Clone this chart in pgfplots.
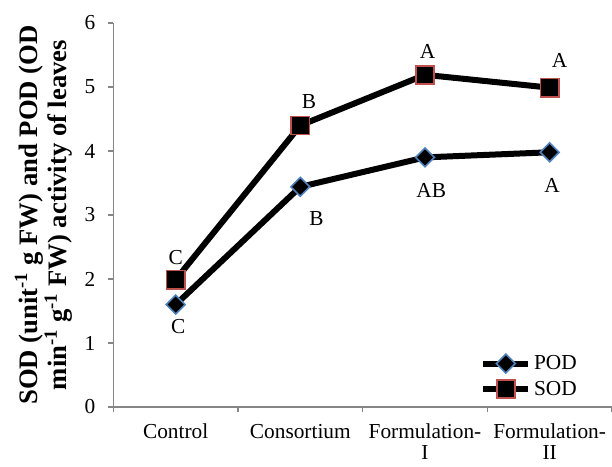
\documentclass[border=0pt]{standalone}
\usepackage{fontspec}
\setmainfont{Liberation Serif}
\usepackage{pgfplots}
\pgfplotsset{compat=1.18}
\definecolor{axgray}{HTML}{868686}
\definecolor{podblue}{HTML}{4F81BD}
\definecolor{sodred}{HTML}{C0504D}
\begin{document}
\begin{tikzpicture}
\useasboundingbox (-85pt,-45pt) rectangle (374pt,305.25pt);
\begin{axis}[
 at={(0,0)}, anchor=south west, scale only axis,
 width=374pt, height=288pt,
 xmin=-0.5, xmax=3.5, ymin=0, ymax=6,
 clip=false,
 axis x line*=bottom, axis y line*=left,
 axis line style={draw=axgray, line width=0.8pt},
 tick align=outside,
 xtick={0,1,2,3},
 xticklabels={\strut Control,\strut Consortium,\strut Formulation-\\I,\strut Formulation-\\II},
 xticklabel style={align=center, font=\fontsize{16}{16}\selectfont, yshift=-5pt},
 major x tick style={draw=none},
 minor xtick={-0.5,0.5,1.5,2.5,3.5},
 minor x tick style={draw=axgray, line width=0.8pt},
 minor tick length=4pt,
 ytick={0,1,2,3,4,5,6},
 y tick style={draw=axgray, line width=0.8pt},
 major tick length=4pt,
 yticklabel style={font=\fontsize{16}{16}\selectfont, xshift=-6pt},
 /pgf/number format/assume math mode=true,
 ylabel={SOD (unit\textsuperscript{-1} g FW) and POD (OD\\min\textsuperscript{-1} g\textsuperscript{-1} FW) activity of leaves},
 ylabel style={font=\bfseries\fontsize{20}{20}\selectfont, align=center, at={(axis description cs:-0.1395,0.5)}, anchor=center},
 legend style={draw=none, fill=none, at={(0.735,0.08)}, anchor=west, font=\fontsize{16}{16}\selectfont, row sep=3pt, inner sep=0pt},
 legend cell align=left,
 legend image code/.code={\draw[#1, mark repeat=2, mark phase=2] plot coordinates {(0pt,0pt) (17pt,0pt) (34pt,0pt)};},
]
\addplot[black, line width=4.5pt, mark=square*, mark size=5pt,
  mark options={rotate=45, fill=black, draw=podblue, line width=1.2pt}]
  coordinates {(0,1.60) (1,3.44) (2,3.90) (3,3.98)};
\addlegendentry{POD}
\addplot[black, line width=4.5pt, mark=square*, mark size=6.8pt,
  mark options={fill=black, draw=sodred, line width=1.2pt}]
  coordinates {(0,1.99) (1,4.40) (2,5.19) (3,4.99)};
\addlegendentry{SOD}
\begin{scope}[every node/.style={font=\fontsize{16}{16}\selectfont}]
\node at (axis cs:0.0,2.33) {C};
\node at (axis cs:0.02,1.26) {C};
\node at (axis cs:1.07,4.78) {B};
\node at (axis cs:1.13,2.95) {B};
\node at (axis cs:2.02,5.56) {A};
\node at (axis cs:2.05,3.38) {AB};
\node at (axis cs:3.08,5.42) {A};
\node at (axis cs:3.02,3.46) {A};
\end{scope}
\end{axis}
\end{tikzpicture}
\end{document}
